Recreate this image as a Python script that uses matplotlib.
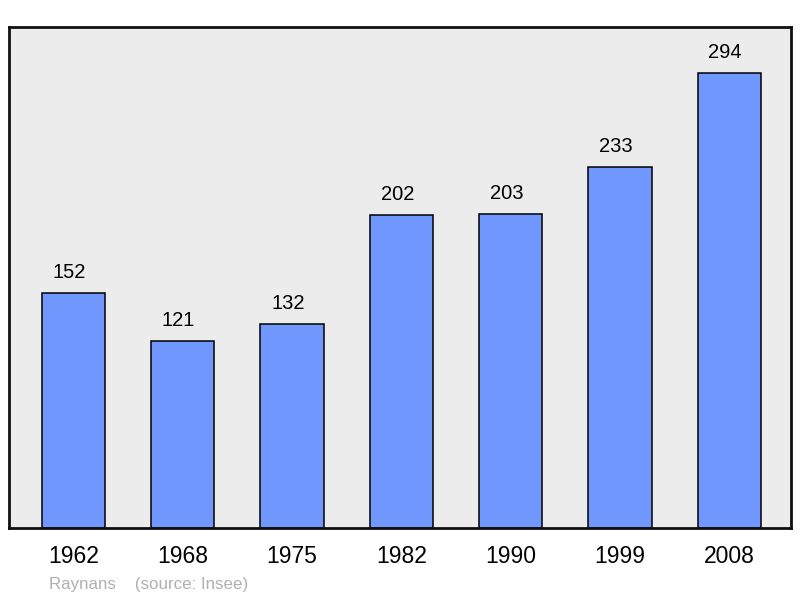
import numpy as np
import matplotlib.pyplot as plt

plt.rcParams['font.family'] = ['Liberation Sans', 'DejaVu Sans']

# data
years = ['1962', '1968', '1975', '1982', '1990', '1999', '2008']
population = [152, 121, 132, 202, 203, 233, 294]

fig = plt.figure(figsize=(8, 5.98), dpi=100)
ax = fig.add_axes([9/800, 70/598, 782/800, 501/598])
ax.set_facecolor('#ececec')

x = np.arange(len(years))
ax.bar(x, population, width=0.58, color='#7098ff', edgecolor='black', linewidth=1.1, zorder=2)

for xi, v in zip(x, population):
    ax.annotate(str(v), (xi, v), xytext=(-3, 8), textcoords='offset points',
                ha='center', va='bottom', fontsize=14.5)

ax.set_xlim(-0.59, 6.565)
ax.set_ylim(0, 323.7)
ax.set_yticks([])
ax.set_xticks(x)
ax.set_xticklabels(years, fontsize=16.5)
ax.tick_params(axis='x', length=0, pad=12.5)
for s in ax.spines.values():
    s.set_linewidth(2)
    s.set_color('#111111')

fig.text(49/800, 1 - 584/598, 'Raynans    (source: Insee)', fontsize=12.2,
         color='#b0b0b0', va='center', ha='left')

fig.savefig('out.png', dpi=100)
